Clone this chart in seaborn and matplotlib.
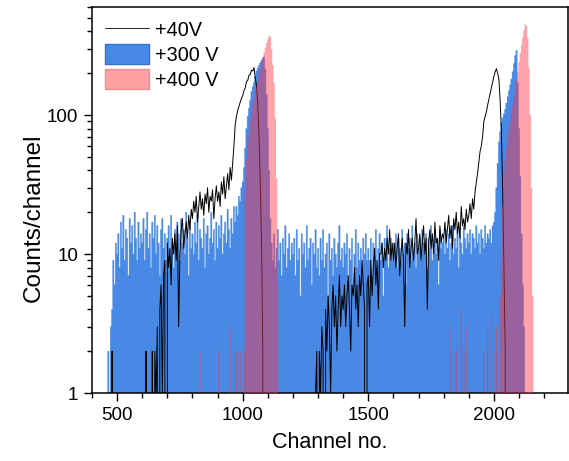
import numpy as np
import pandas as pd
import matplotlib
matplotlib.use("Agg")
import matplotlib.pyplot as plt
import seaborn as sns
from matplotlib.lines import Line2D
from matplotlib.patches import Patch
from matplotlib.ticker import MultipleLocator, LogLocator, FixedLocator, FixedFormatter, NullFormatter

# ---------------- data ----------------
CH_STEP = 5

# +300 V spectrum: counts per channel, channels 460, 465, ... 2130
blue_start = 460
blue_counts = [
    0, 2, 1, 3, 4, 9, 6, 12,
    10, 14, 8, 17, 11, 19, 9, 15, 13, 7, 18, 12, 16, 10, 20, 13, 9, 17, 11, 14,
    12, 18, 9, 15, 20, 11, 14, 8, 17, 13, 19, 10, 16, 12, 7, 15, 18, 11, 14, 9,
    13, 16, 10, 19, 12, 8, 15, 11, 17, 14, 9, 18, 12, 15, 10, 20, 13, 7, 16, 11,
    14, 10, 17, 12, 19, 9, 15, 13, 11, 18, 8, 14, 16, 10, 13, 20, 12, 15, 9, 17,
    11, 16, 13, 19, 10, 14, 17, 12, 21, 15, 11, 18, 14, 22, 17, 22, 19, 26, 24, 30,
    33, 42, 58, 80, 98, 112, 128, 148, 160, 172, 190, 208, 218, 228, 238, 248, 258, 262, 215, 140,
    80, 40, 18, 12, 9, 14, 8, 11, 15, 9, 12, 7, 13, 10, 16, 8, 11, 14, 9, 12,
    10, 13, 7, 15, 9, 11, 5, 14, 10, 12, 8, 16, 9, 11, 13, 6, 12, 10, 15, 8,
    11, 7, 13, 9, 15, 8, 10, 12, 5, 14, 9, 11, 7, 13, 10, 8, 12, 16, 9, 11,
    8, 12, 10, 14, 6, 11, 9, 13, 5, 10, 15, 8, 12, 9, 11, 7, 13, 10, 14, 9,
    11, 9, 13, 7, 12, 10, 15, 8, 11, 14, 9, 12, 5, 13, 10, 16, 8, 11, 13, 9,
    12, 10, 14, 8, 13, 11, 9, 15, 10, 12, 6, 14, 11, 13, 9, 16, 10, 12, 8, 14,
    11, 13, 9, 15, 12, 10, 14, 8, 13, 11, 16, 9, 12, 14, 10, 13, 6, 15, 11, 12,
    13, 10, 15, 11, 14, 9, 12, 16, 10, 13, 11, 15, 8, 14, 12, 10, 16, 13, 11, 14,
    12, 15, 10, 14, 13, 11, 16, 12, 14, 10, 15, 13, 11, 16, 12, 14, 13, 15, 12, 16,
    17, 20, 30, 45, 64, 76, 88, 96, 102, 110, 122, 136, 150, 165, 182, 205, 235, 268, 292, 170,
    80, 36, 14, 6, 3, 1, 0,
]

# +400 V spectrum: the two peaks plus isolated low counts
pink_peak1_start = 1000
pink_peak1 = [1, 2, 28, 48, 60, 72, 92, 105, 118, 132,
              148, 160, 178, 198, 218, 240, 258, 280, 305, 330,
              352, 372, 365, 300, 230, 170, 95, 35, 6, 0]
pink_peak2_start = 2025
pink_peak2 = [5, 10, 22, 38, 48, 58, 68, 78, 90, 102,
              118, 135, 155, 178, 205, 240, 280, 320, 365, 410,
              450, 440, 360, 220, 100, 30, 5, 0]
pink_spike_ch = [830, 905, 950, 975, 990, 1825, 1850, 1870, 1880, 1890,
                 1960, 1975, 1990, 2000, 2010, 2015]
pink_spikes = [2, 2, 3, 2, 2, 3, 2, 4, 2, 3, 2, 3, 4, 2, 3, 2]

# +40 V spectrum
black_spike_ch = [480, 615]
black_spikes = [2, 2]
black1_start = 640
black1 = [
    2, 0, 2, 1, 3, 0, 4, 6, 1, 7, 9, 0,
    12, 8, 11, 6, 13, 10, 14, 9, 16, 3, 10, 15, 18, 11, 14, 17, 13, 19, 15, 21,
    18, 24, 20, 26, 17, 22, 28, 21, 25, 19, 27, 23, 30, 20, 26, 24, 29, 18, 25, 31,
    24, 28, 22, 33, 27, 36, 25, 31, 38, 29, 42, 34, 45, 60, 85, 98, 108, 116, 124, 132,
    138, 150, 156, 175, 178, 194, 196, 210, 208, 220, 186, 162, 118, 70, 32, 12, 2, 0,
]
black2_start = 1290
black2 = [
    1, 2,
    0, 2, 1, 3, 2, 0, 4, 2, 5, 3, 1, 4, 6, 3, 5, 2, 4, 7, 3, 5,
    4, 6, 3, 5, 7, 4, 2, 6, 5, 8, 4, 6, 3, 7, 5, 9, 6, 4, 0, 6,
    7, 3, 9, 5, 8, 11, 6, 9, 4, 10, 10, 12, 8, 11, 9, 13, 10, 15, 9, 12,
    9, 12, 8, 11, 14, 7, 10, 13, 9, 3, 12, 10, 15, 8, 11, 13, 9, 12, 18, 10,
    11, 14, 9, 12, 16, 10, 13, 4, 12, 15, 11, 14, 10, 17, 12, 13, 9, 16, 12, 14,
    13, 17, 12, 15, 19, 13, 16, 11, 18, 15, 20, 14, 17, 13, 22, 16, 18, 15, 21, 17,
    19, 23, 18, 25, 21, 28, 33, 38, 46, 55, 60, 70, 90, 98, 105, 118, 130, 142, 158, 175,
    190, 205, 216, 200, 180, 125, 75, 28, 8, 2, 0,
]

series_labels = ["+40V", "+300 V", "+400 V"]
x_major_ticks = [500, 1000, 1500, 2000]
y_major_ticks = [1, 10, 100]
y_tick_labels = ["1", "10", "100"]
x_label = "Channel no."
y_label = "Counts/channel"


# ---------------- build tables ----------------
def seg(start, vals):
    return pd.Series(vals, index=start + CH_STEP * np.arange(len(vals)), dtype=float)


grid = np.arange(455, 2180, CH_STEP)
blue = seg(blue_start, blue_counts).reindex(grid, fill_value=0)
pink = pd.concat([seg(pink_peak1_start, pink_peak1),
                  seg(pink_peak2_start, pink_peak2),
                  pd.Series(pink_spikes, index=pink_spike_ch, dtype=float)])
pink = pink.groupby(level=0).max().reindex(grid, fill_value=0)
black = pd.concat([pd.Series(black_spikes, index=black_spike_ch, dtype=float),
                   seg(black1_start, black1), seg(black2_start, black2)])
black_grid = np.arange(470, 2060, CH_STEP)
black = black.groupby(level=0).max().reindex(black_grid, fill_value=0)

df_black = pd.DataFrame({"channel": black.index, "counts": black.values})

# ---------------- figure ----------------
sns.set_theme(style="white")
plt.rcParams["font.family"] = ["Liberation Sans", "DejaVu Sans"]
plt.rcParams["text.color"] = "black"
plt.rcParams["axes.labelcolor"] = "black"
plt.rcParams["xtick.color"] = "black"
plt.rcParams["ytick.color"] = "black"

W, H = 569, 461
fig = plt.figure(figsize=(W / 100, H / 100), dpi=100)
ax = fig.add_axes([92 / W, 1 - 393 / H, (568 - 92) / W, (393 - 7) / H])
ax.set_yscale("log", nonpositive="clip")

blue_col = "#4889e6"
pink_col = "#ff3344"
pink_alpha = 0.45

ax.fill_between(grid, blue.values, 0, step="mid", color=blue_col, lw=0.3,
                edgecolor=blue_col, zorder=1)
sns.lineplot(data=df_black, x="channel", y="counts", ax=ax, color="black",
             lw=0.7, zorder=2, legend=False)
ax.fill_between(grid, pink.values, 0, step="mid", color=pink_col, alpha=pink_alpha,
                lw=0, zorder=3)

ax.set_xlim(400, 2295)
ax.set_ylim(1, 600)

ax.xaxis.set_major_locator(FixedLocator(x_major_ticks))
ax.xaxis.set_minor_locator(MultipleLocator(100))
ax.yaxis.set_major_locator(FixedLocator(y_major_ticks))
ax.yaxis.set_major_formatter(FixedFormatter(y_tick_labels))
ax.yaxis.set_minor_locator(LogLocator(base=10, subs=np.arange(2, 10)))
ax.yaxis.set_minor_formatter(NullFormatter())

ax.tick_params(axis="both", which="major", direction="out", length=6, width=1,
               labelsize=13.5, color="black", labelcolor="black", pad=4,
               bottom=True, left=True, top=False, right=False)
ax.tick_params(axis="both", which="minor", direction="out", length=3.5, width=1,
               color="black", bottom=True, left=True, top=False, right=False)
for s in ax.spines.values():
    s.set_visible(True)
    s.set_color("black")
    s.set_linewidth(1.1)

ax.set_xlabel(x_label, fontsize=15.5, color="black", labelpad=6)
ax.set_ylabel(y_label, fontsize=17.5, color="black")
ax.yaxis.set_label_coords(-0.10, 0.455)
ax.grid(False)

handles = [
    Line2D([], [], color="black", lw=0.6),
    Patch(facecolor=blue_col, edgecolor="#3a70c8", lw=1),
    Patch(facecolor="#ffa0a2", edgecolor="#e89090", lw=1),
]
ax.legend(handles, series_labels, loc="upper left", frameon=False, fontsize=14.3,
          handlelength=2.2, handleheight=1.15, labelspacing=0.2,
          handletextpad=0.3, borderaxespad=0.3, borderpad=0.35,
          labelcolor="black")

fig.savefig("out.png", dpi=100)
